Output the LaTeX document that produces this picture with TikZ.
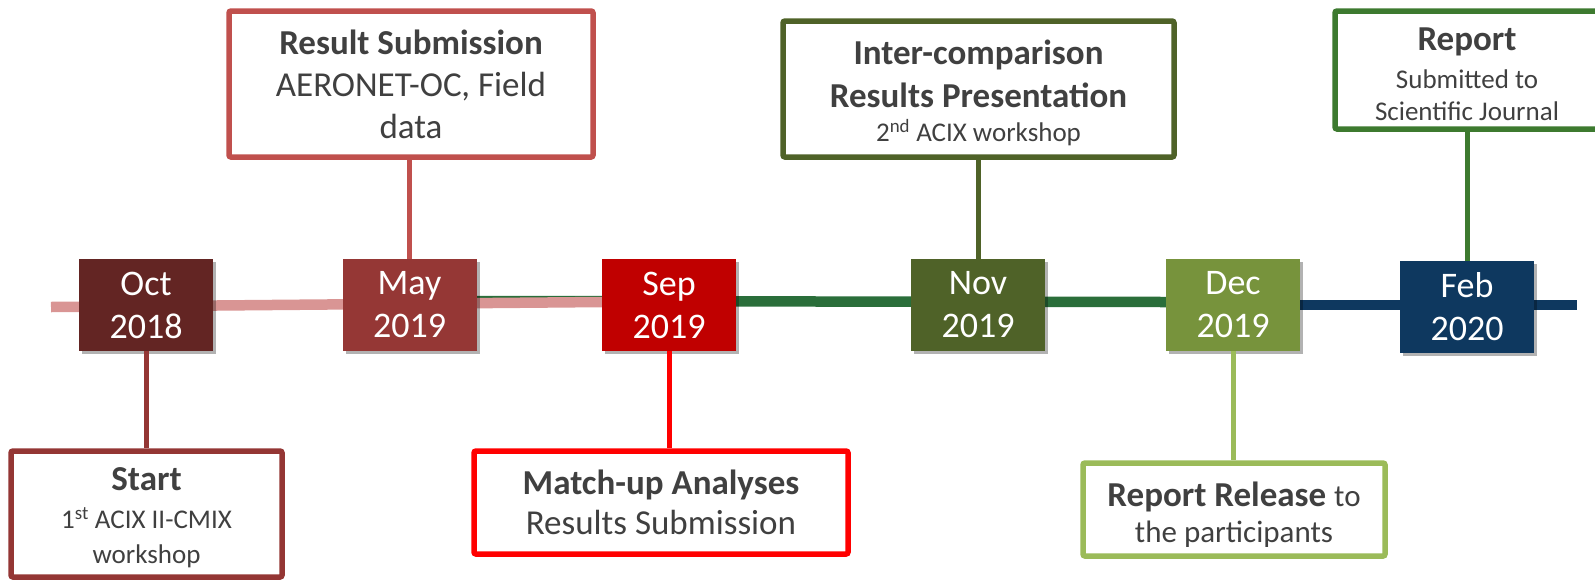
\documentclass[tikz,border=0pt]{standalone}
\usepackage{fontspec}
\setmainfont{Carlito}
\usetikzlibrary{shadows}
\pgfdeclarelayer{bg}
\pgfsetlayers{bg,main}

\definecolor{txt}{HTML}{404040}
\definecolor{octc}{HTML}{632523}
\definecolor{mayc}{HTML}{953735}
\definecolor{sepc}{HTML}{C00000}
\definecolor{novc}{HTML}{4F6228}
\definecolor{decc}{HTML}{77933C}
\definecolor{febc}{HTML}{0E385F}
\definecolor{pinkline}{HTML}{D99594}
\definecolor{greenline}{HTML}{2A6E3A}
\definecolor{startc}{HTML}{943634}
\definecolor{resc}{HTML}{C0504D}
\definecolor{matchc}{HTML}{FF0000}
\definecolor{interc}{HTML}{4F6228}
\definecolor{relc}{HTML}{9BBB59}
\definecolor{repc}{HTML}{3D7A2F}

% invisible strut that lowers a text block inside its box
\newcommand{\topstrut}[1]{\rule{0pt}{#1}}

\begin{document}
\begin{tikzpicture}[x=1pt,y=-1pt,
  datebox/.style={fill=#1, text=white, minimum width=134pt, minimum height=92pt,
    inner sep=0pt, align=center, font=\fontsize{36}{43}\selectfont,
    drop shadow={shadow xshift=3pt, shadow yshift=-3pt, opacity=.3, fill=black}},
  infobox/.style={draw=#1, line width=5.5pt, fill=white, text=txt, align=center,
    inner sep=0pt, rounded corners=2pt, font=\fontsize{35}{42}\selectfont},
  conn/.style={draw=#1, line width=5pt},
  track/.style={draw=#1, line width=10.5pt}]
\useasboundingbox (0,0) rectangle (1595,582);
\clip (0,0) rectangle (1595,582);

% month markers on the time line
\node[datebox=octc] (oct) at (146,305) {Oct\\2018};
\node[datebox=mayc] (may) at (409.5,305) {May\\2019};
\node[datebox=sepc] (sep) at (669,305) {Sep\\2019};
\node[datebox=novc] (nov) at (978,305) {Nov\\2019};
\node[datebox=decc] (dec) at (1233,305) {Dec\\2019};
\node[datebox=febc] (feb) at (1467,307) {Feb\\2020};

% the time line itself, drawn behind the markers
\coordinate (tlstart) at (51,307);
\coordinate (tlend) at (1577,305);
\begin{pgfonlayer}{bg}
  \draw[track=greenline] (may.east |- 0,301) -- (dec.west |- 0,302);
  \draw[track=pinkline] (tlstart) -- (sep.west |- 0,302);
  \draw[track=febc] (dec.east |- 0,305) -- (tlend);
\end{pgfonlayer}

% event boxes
\node[infobox=startc, minimum width=271pt, minimum height=126pt] (start) at (146.5,514)
  {\topstrut{30pt}\textbf{Start}\\[-4pt]
   {\fontsize{27}{32}\selectfont 1\textsuperscript{st} ACIX II-CMIX}\\[-7pt]
   {\fontsize{27}{32}\selectfont workshop}};
\node[infobox=resc, minimum width=364pt, minimum height=146pt] (ressub) at (411,84)
  {\textbf{Result Submission}\\AERONET-OC, Field\\data};
\node[infobox=matchc, minimum width=374pt, minimum height=103pt] (match) at (661,502.5)
  {\textbf{Match-up Analyses}\\[-2pt]Results Submission};
\node[infobox=interc, minimum width=391pt, minimum height=136pt] (inter) at (978.5,89)
  {\topstrut{32pt}\textbf{Inter-comparison}\\[1pt]\textbf{Results Presentation}\\[-8pt]
   {\fontsize{27}{32}\selectfont 2\textsuperscript{nd} ACIX workshop}};
\node[infobox=relc, minimum width=302pt, minimum height=93pt] (release) at (1234,509.5)
  {\topstrut{34pt}\textbf{Report Release} {\fontsize{31}{37}\selectfont to}\\[-6pt]
   {\fontsize{31}{37}\selectfont the participants}};
\node[infobox=repc, minimum width=264pt, minimum height=118pt] (report) at (1467,70)
  {\topstrut{31pt}\textbf{Report}\\[-4pt]
   {\fontsize{27}{32}\selectfont Submitted to}\\[-10pt]
   {\fontsize{27}{32}\selectfont Scientific Journal}};

% connectors from the markers to their boxes
\draw[conn=startc] (oct.south) -- (oct.south |- start.north);
\draw[conn=resc] (may.north) -- (may.north |- ressub.south);
\draw[conn=matchc] (sep.south) -- (sep.south |- match.north);
\draw[conn=interc] (nov.north) -- (nov.north |- inter.south);
\draw[conn=relc] (dec.south) -- (dec.south |- release.north);
\draw[conn=repc] (feb.north) -- (feb.north |- report.south);
\end{tikzpicture}
\end{document}
